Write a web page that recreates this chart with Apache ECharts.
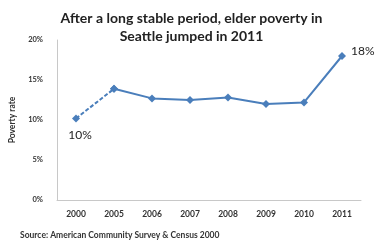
<!DOCTYPE html>
<html>
<head>
<meta charset="utf-8">
<script src="https://cdn.jsdelivr.net/npm/echarts@6/dist/echarts.min.js"></script>
<style>
  html, body { margin: 0; padding: 0; background: #fff; }
  #chart { width: 383px; height: 248px; }
</style>
</head>
<body>
<div id="chart"></div>
<script>
// years on the x axis
const years = ['2000', '2005', '2006', '2007', '2008', '2009', '2010', '2011']
// elder poverty rate, percent
const povertyRate = [10.2, 13.9, 12.7, 12.5, 12.8, 12.0, 12.2, 18.0]
const yTicks = [0, 5, 10, 15, 20]

// first leg (2000 -> 2005) is dashed, the rest solid
const dashedPart = povertyRate.map((v, i) => (i <= 1 ? v : '-'))
const solidPart = povertyRate.map((v, i) => (i >= 1 ? v : '-'))

const blue = '#4a7ebb'
const font = 'Lato, "Open Sans", sans-serif'

const chart = echarts.init(document.getElementById('chart'))
chart.setOption({
  backgroundColor: '#fff',
  animation: false,
  textStyle: { fontFamily: font },
  title: {
    text: 'After a long stable period, elder poverty in\nSeattle jumped in 2011',
    left: 'center',
    top: 4,
    textStyle: { fontSize: 14, fontWeight: 'bold', color: '#222', lineHeight: 18, fontFamily: font }
  },
  graphic: [{
    type: 'text',
    left: 20,
    top: 231,
    style: { text: 'Source: American Community Survey & Census 2000', fontSize: 8.5, fontWeight: 'bold', fill: '#333', fontFamily: font }
  }],
  grid: { left: 57, right: 22, top: 40, bottom: 48 },
  xAxis: {
    type: 'category',
    data: years,
    boundaryGap: true,
    axisLine: { lineStyle: { color: '#c8c8c8' } },
    axisTick: { show: false },
    axisLabel: { fontSize: 8.5, color: '#333', margin: 10, fontWeight: 'bold' }
  },
  yAxis: {
    type: 'value',
    min: yTicks[0],
    max: yTicks[yTicks.length - 1],
    interval: 5,
    name: 'Poverty rate',
    nameLocation: 'middle',
    nameGap: 31,
    nameTextStyle: { fontSize: 8.5, color: '#333', fontWeight: 'bold' },
    axisLine: { show: true, lineStyle: { color: '#c8c8c8' } },
    axisTick: { show: false },
    splitLine: { show: false },
    axisLabel: { fontSize: 7.5, color: '#333', margin: 14, fontWeight: 'bold', formatter: v => v + '%' }
  },
  series: [{
    type: 'line',
    data: dashedPart,
    symbol: 'diamond',
    symbolSize: 8,
    lineStyle: { color: blue, width: 2, type: [4, 2] },
    itemStyle: { color: blue },
    label: {
      show: true,
      fontSize: 12,
      color: '#222',
      formatter: p => (p.dataIndex === 0 ? Math.round(p.value) + '%' : ''),
      position: 'bottom',
      offset: [4, 2]
    }
  }, {
    type: 'line',
    data: solidPart,
    symbol: 'diamond',
    symbolSize: 8,
    lineStyle: { color: blue, width: 2 },
    itemStyle: { color: blue },
    label: {
      show: true,
      fontSize: 12,
      color: '#222',
      formatter: p => (p.dataIndex === years.length - 1 ? Math.round(p.value) + '%' : ''),
      position: 'right',
      offset: [0, -5]
    }
  }]
})
</script>
</body>
</html>
